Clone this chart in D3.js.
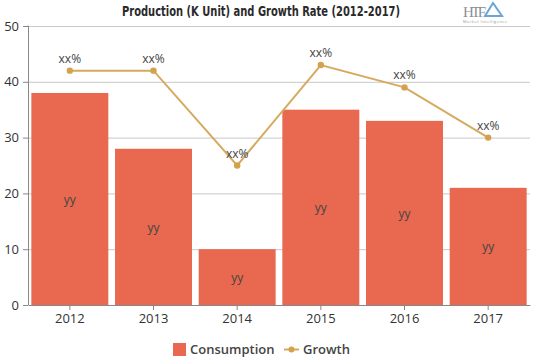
<!DOCTYPE html>
<html><head><meta charset="utf-8">
<script src="https://cdn.jsdelivr.net/npm/d3@7/dist/d3.min.js"></script>
<style>body{margin:0;background:#fff}svg{display:block}</style>
</head><body>
<svg id="c" width="539" height="359"></svg>
<script>
const years = ["2012","2013","2014","2015","2016","2017"];
const consumption = [38, 28, 10, 35, 33, 21];
const growth = [42, 42, 25, 43, 39, 30];
const barLabels = ["yy","yy","yy","yy","yy","yy"];
const growthLabels = ["xx%","xx%","xx%","xx%","xx%","xx%"];
const yTicks = [0,10,20,30,40,50];

const svg = d3.select("#c");
const m = {l:28, r:9, t:26, b:54};
const W = 539, H = 359;
const x = d3.scaleBand().domain(years).range([m.l, W-m.r]).paddingInner(0.08).paddingOuter(0.04);
const y = d3.scaleLinear().domain([0,50]).range([H-m.b, m.t]);
const font = "'Open Sans', 'Lato', sans-serif";

// grid
svg.append("g").selectAll("line").data(yTicks.filter(d=>d>0)).join("line")
  .attr("x1", m.l).attr("x2", W-m.r).attr("y1", d=>y(d)+0.5).attr("y2", d=>y(d)+0.5)
  .attr("stroke", "#c8c8c8").attr("stroke-width",1);

// bars
svg.append("g").selectAll("rect").data(years).join("rect")
  .attr("x", d=>x(d)).attr("width", x.bandwidth())
  .attr("y", (d,i)=>y(consumption[i])).attr("height",(d,i)=>y(0)-y(consumption[i]))
  .attr("fill", "#e8694f");

// bar labels
svg.append("g").selectAll("text").data(years).join("text")
  .attr("x", d=>x(d)+x.bandwidth()/2).attr("y",(d,i)=>y(consumption[i]/2)+5)
  .attr("text-anchor","middle").attr("font-family",font).attr("font-size",12).attr("fill","#444")
  .text((d,i)=>barLabels[i]);

// axes
const ya = svg.append("g").attr("transform",`translate(${m.l},0)`)
  .call(d3.axisLeft(y).tickValues(yTicks).tickSize(5).tickPadding(3));
ya.select(".domain").attr("stroke","#888").attr("d",`M-0.5,${y(50)}H0.5V${y(0)}`);
ya.selectAll(".tick line").attr("stroke","#888");
ya.selectAll("text").attr("font-family",font).attr("font-size",13).attr("fill","#333");
ya.selectAll(".tick text").attr("dx",-1);

const xa = svg.append("g").attr("transform",`translate(0,${y(0)})`)
  .call(d3.axisBottom(x).tickSize(5).tickPadding(4).tickSizeOuter(0));
xa.select(".domain").attr("stroke","#888");
xa.selectAll(".tick line").attr("stroke","#888");
xa.selectAll("text").attr("font-family",font).attr("font-size",13).attr("fill","#333");

// growth line
const cx = d=>x(d)+x.bandwidth()/2;
const line = d3.line().x((d,i)=>cx(years[i])).y(d=>y(d));
svg.append("path").datum(growth).attr("d",line).attr("fill","none")
  .attr("stroke","#d6aa5e").attr("stroke-width",2);
svg.append("g").selectAll("circle").data(growth).join("circle")
  .attr("cx",(d,i)=>cx(years[i])).attr("cy",d=>y(d)).attr("r",3.2).attr("fill","#d4a24c");
svg.append("g").selectAll("text").data(growth).join("text")
  .attr("x",(d,i)=>cx(years[i])).attr("y",d=>y(d)-8)
  .attr("text-anchor","middle").attr("font-family",font).attr("font-size",12).attr("fill","#444")
  .text((d,i)=>growthLabels[i]);

// title
svg.append("text").attr("x",122).attr("y",16)
  .attr("font-family","'DejaVu Sans Condensed', 'DejaVu Sans', sans-serif").attr("font-weight","bold")
  .attr("font-size",13.5).attr("fill","#2a2a2a")
  .attr("textLength",278).attr("lengthAdjust","spacingAndGlyphs")
  .text("Production (K Unit) and Growth Rate (2012-2017)");

// logo
svg.append("text").attr("x",463).attr("y",17).attr("font-family","'Liberation Serif', serif")
  .attr("font-size",15).attr("fill","#8a8f96").attr("textLength",23).text("HTF");
svg.append("path").attr("d","M493,3 L502,16 L485,16 Z").attr("fill","none").attr("stroke","#4f95d0").attr("stroke-width",2).attr("opacity",0.85);
svg.append("text").attr("x",463).attr("y",23).attr("font-family",font)
  .attr("font-size",4).attr("fill","#999").attr("textLength",44).text("Market Intelligence");

// legend
const lg = svg.append("g").attr("font-family",font).attr("font-size",13).attr("fill","#333");
lg.append("rect").attr("x",173).attr("y",343).attr("width",13).attr("height",13).attr("fill","#e8694f");
lg.append("text").attr("x",190).attr("y",354).text("Consumption").attr("font-weight",600).attr("fill","#444");
lg.append("line").attr("x1",284).attr("x2",299).attr("y1",349.5).attr("y2",349.5).attr("stroke","#d6aa5e").attr("stroke-width",2);
lg.append("circle").attr("cx",291.5).attr("cy",349.5).attr("r",3).attr("fill","#d4a24c");
lg.append("text").attr("x",303).attr("y",354).text("Growth").attr("font-weight",600).attr("fill","#444");
</script>
</body></html>
